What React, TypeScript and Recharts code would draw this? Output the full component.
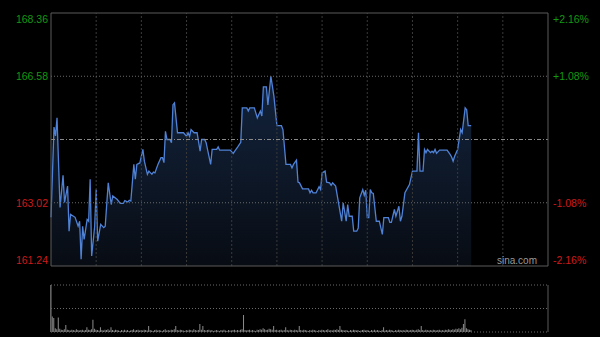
import { ComposedChart, Area, BarChart, Bar, XAxis, YAxis, ReferenceLine } from 'recharts';

const prevClose = 164.8;
const priceTicks = [161.24, 163.02, 166.58, 168.36];
const gridMinutes = [30, 60, 90, 120, 150, 180, 210, 240, 270, 300];

// vertices of the intraday price line (minute from open, price)
const minutes = [
  0, 2, 3, 4, 6, 8, 9, 11, 12, 13, 16, 18, 19, 20, 21, 22, 24, 25, 26, 27,
  29, 30, 31, 33, 35, 36, 38, 40, 41, 44, 46, 48, 49, 51, 52, 53, 55, 56, 57, 59,
  61, 62, 64, 65, 67, 68, 69, 71, 73, 74, 75, 76, 77, 79, 80, 81, 82, 84, 88, 90,
  91, 92, 93, 95, 97, 99, 100, 102, 103, 106, 107, 110, 111, 112, 119, 121, 122, 124, 126, 127,
  130, 131, 132, 135, 137, 139, 140, 141, 143, 144, 146, 148, 150, 153, 154, 156, 159, 160, 161, 163,
  164, 165, 167, 171, 172, 173, 174, 176, 178, 179, 180, 182, 183, 185, 186, 187, 189, 193, 194, 196,
  197, 198, 200, 201, 203, 204, 205, 207, 208, 209, 210, 211, 212, 213, 214, 216, 218, 220, 221, 224,
  225, 226, 228, 229, 230, 231, 232, 233, 235, 238, 240, 243, 244, 245, 247, 248, 249, 250, 252, 253,
  254, 255, 256, 258, 263, 265, 266, 267, 268, 270, 272, 273, 275, 276, 277, 279,
];
const prices = [
  162.61, 165.15, 164.90, 165.41, 162.89, 163.79, 163.03, 163.49, 162.22, 162.69, 162.61, 162.36, 162.50, 161.43, 162.36, 161.99, 162.55, 162.50, 163.68, 161.52,
  162.36, 163.39, 161.94, 162.41, 162.32, 162.36, 163.58, 162.97, 163.21, 163.11, 163.00, 163.00, 163.08, 163.04, 163.09, 163.07, 164.10, 163.68, 164.10, 164.14,
  164.52, 164.19, 163.82, 163.91, 163.82, 163.88, 163.86, 164.10, 164.29, 164.29, 164.15, 165.03, 164.80, 164.80, 164.71, 165.78, 165.83, 164.99, 164.99, 164.89,
  164.99, 164.89, 165.08, 164.99, 164.99, 164.47, 164.80, 164.80, 164.71, 164.10, 164.52, 164.52, 164.59, 164.50, 164.50, 164.41, 164.47, 164.59, 164.72, 165.69,
  165.69, 165.60, 165.69, 165.69, 165.41, 165.60, 165.46, 166.28, 166.28, 165.77, 166.58, 166.02, 165.19, 165.19, 165.08, 164.10, 164.10, 164.00, 164.10, 164.22,
  163.60, 163.58, 163.41, 163.41, 163.30, 163.37, 163.30, 163.30, 163.47, 163.39, 163.86, 163.91, 163.60, 163.58, 163.51, 163.58, 163.49, 162.50, 163.02, 162.50,
  162.97, 162.64, 162.64, 162.22, 162.22, 162.31, 163.16, 163.39, 163.23, 163.37, 162.60, 162.60, 163.39, 163.30, 163.28, 162.50, 162.50, 162.13, 162.60, 162.60,
  162.47, 162.47, 162.83, 162.64, 162.78, 162.92, 162.50, 162.64, 163.30, 163.53, 163.91, 163.91, 164.99, 163.91, 163.91, 164.52, 164.43, 164.52, 164.43, 164.47,
  164.43, 164.52, 164.41, 164.50, 164.50, 164.38, 164.31, 164.19, 164.33, 164.52, 165.08, 164.99, 165.69, 165.64, 165.19, 165.19,
];

// per-minute volume, relative to the opening bar (100)
const volumes = [
  100, 33, 30, 8, 6, 31, 7, 5, 4, 6, 15, 5, 4, 3, 5, 4, 3, 6, 4, 3,
  4, 5, 3, 4, 10, 5, 4, 6, 26, 7, 5, 4, 3, 10, 4, 3, 5, 4, 6, 3,
  10, 4, 3, 5, 4, 3, 2, 4, 3, 5, 3, 4, 2, 3, 4, 6, 3, 4, 5, 3,
  4, 3, 5, 4, 3, 13, 4, 3, 2, 4, 5, 3, 4, 3, 2, 4, 6, 3, 4, 3,
  5, 4, 6, 13, 4, 3, 5, 4, 3, 2, 4, 3, 5, 4, 3, 6, 4, 3, 4, 17,
  5, 13, 4, 3, 4, 5, 3, 4, 2, 3, 4, 3, 2, 4, 3, 5, 3, 2, 4, 3,
  3, 4, 5, 3, 4, 3, 5, 6, 36, 4, 3, 4, 5, 3, 4, 3, 2, 5, 4, 6,
  5, 8, 6, 4, 5, 7, 6, 5, 13, 4, 5, 3, 4, 5, 3, 4, 10, 4, 3, 5,
  4, 3, 5, 4, 3, 13, 4, 3, 5, 4, 3, 2, 4, 3, 5, 4, 3, 2, 4, 3,
  5, 4, 3, 4, 6, 3, 4, 3, 5, 4, 6, 4, 13, 5, 4, 3, 4, 3, 2, 4,
  3, 5, 4, 3, 4, 2, 3, 4, 5, 3, 4, 3, 2, 4, 3, 5, 3, 4, 3, 2,
  4, 10, 3, 4, 3, 5, 4, 3, 2, 4, 3, 5, 4, 3, 4, 3, 5, 4, 3, 4,
  5, 4, 3, 5, 6, 4, 13, 4, 3, 5, 4, 3, 4, 3, 5, 4, 3, 4, 5, 3,
  4, 3, 5, 4, 6, 5, 4, 6, 5, 7, 6, 8, 6, 9, 17, 27, 8, 6, 5, 4,
];

const priceData = minutes.map((t, i) => ({ t, price: prices[i] }));
const volumeData = volumes.map((vol, t) => ({ t, vol }));

const FONT = '"Liberation Sans", Arial, sans-serif';
const BORDER = '#5a5a5a';

function LeftTick(props: any) {
  const { x, y, payload } = props;
  const v = payload.value as number;
  const dy = v === 168.36 ? 6 : v === 161.24 ? -6 : 0;
  return (
    <text x={x} y={y + dy} dy={3.8} textAnchor="end" fill={v > prevClose ? '#129a12' : '#cf1a1a'} fontSize={10.5} fontFamily={FONT}>
      {v.toFixed(2)}
    </text>
  );
}

function RightTick(props: any) {
  const { x, y, payload } = props;
  const v = payload.value as number;
  const pct = ((v - prevClose) / prevClose) * 100;
  const dy = v === 168.36 ? 6 : v === 161.24 ? -6 : 0;
  return (
    <text x={x} y={y + dy} dy={3.8} textAnchor="start" fill={v > prevClose ? '#129a12' : '#cf1a1a'} fontSize={10.5} fontFamily={FONT}>
      {(pct > 0 ? '+' : '') + pct.toFixed(2) + '%'}
    </text>
  );
}

export default function App() {
  return (
    <div style={{ position: 'absolute', left: 0, top: 0, width: 600, height: 337, background: '#000', overflow: 'hidden' }}>
      <div style={{ position: 'absolute', left: 0, top: 0 }}>
        <ComposedChart width={600} height={280} data={priceData} margin={{ top: 13, right: 0, bottom: 14, left: 0 }}>
          <defs>
            <linearGradient id="priceFill" x1="0" y1="0" x2="0" y2="1">
              <stop offset="0%" stopColor="#22406e" stopOpacity={0.55} />
              <stop offset="100%" stopColor="#0d1420" stopOpacity={0.6} />
            </linearGradient>
          </defs>
          <XAxis dataKey="t" type="number" domain={[0, 330]} hide />
          <YAxis
            yAxisId="left"
            orientation="left"
            width={51}
            domain={[161.24, 168.36]}
            ticks={priceTicks}
            allowDataOverflow
            axisLine={false}
            tickLine={false}
            tickSize={0}
            tickMargin={3}
            tick={<LeftTick />}
          />
          <YAxis
            yAxisId="right"
            orientation="right"
            width={52}
            domain={[161.24, 168.36]}
            ticks={priceTicks}
            allowDataOverflow
            axisLine={false}
            tickLine={false}
            tickSize={0}
            tickMargin={5}
            tick={<RightTick />}
          />
          {gridMinutes.map((m) => (
            <ReferenceLine key={m} yAxisId="left" x={m} stroke="#3a3a3a" strokeDasharray="2 2" />
          ))}
          <ReferenceLine yAxisId="left" y={166.58} stroke="#6a6a6a" strokeDasharray="1 2" />
          <ReferenceLine yAxisId="left" y={163.02} stroke="#6a6a6a" strokeDasharray="1 2" />
          <ReferenceLine yAxisId="left" y={prevClose} stroke="#8a8a8a" strokeDasharray="4 2 1 2" />
          <Area
            yAxisId="left"
            type="linear"
            dataKey="price"
            stroke="#4f82d6"
            strokeWidth={1.3}
            fill="url(#priceFill)"
            fillOpacity={1}
            isAnimationActive={false}
            dot={false}
            activeDot={false}
          />
          <ReferenceLine yAxisId="left" y={168.36} stroke={BORDER} />
          <ReferenceLine yAxisId="left" y={161.24} stroke={BORDER} />
          <ReferenceLine yAxisId="left" x={0} stroke={BORDER} />
          <ReferenceLine yAxisId="left" x={330} stroke={BORDER} />
        </ComposedChart>
      </div>
      <div
        style={{
          position: 'absolute',
          left: 470,
          top: 256,
          width: 67,
          textAlign: 'right',
          fontSize: 10,
          lineHeight: '10px',
          color: '#9a9a9a',
          fontFamily: FONT,
        }}
      >
        sina.com
      </div>
      <div style={{ position: 'absolute', left: 0, top: 280 }}>
        <BarChart width={600} height={57} data={volumeData} margin={{ top: 5, right: 52, bottom: 5, left: 51 }}>
          <XAxis dataKey="t" type="number" domain={[0, 330]} hide />
          <YAxis domain={[0, 100]} hide />
          <ReferenceLine y={100} stroke="#6a6a6a" strokeDasharray="1 2" />
          <ReferenceLine y={50} stroke="#6a6a6a" strokeDasharray="1 2" />
          <ReferenceLine y={0} stroke="#6a6a6a" strokeDasharray="1 2" />
          <Bar dataKey="vol" fill="#8c8c8c" barSize={1} isAnimationActive={false} />
          <ReferenceLine x={0} stroke={BORDER} />
          <ReferenceLine x={330} stroke={BORDER} />
        </BarChart>
      </div>
    </div>
  );
}
